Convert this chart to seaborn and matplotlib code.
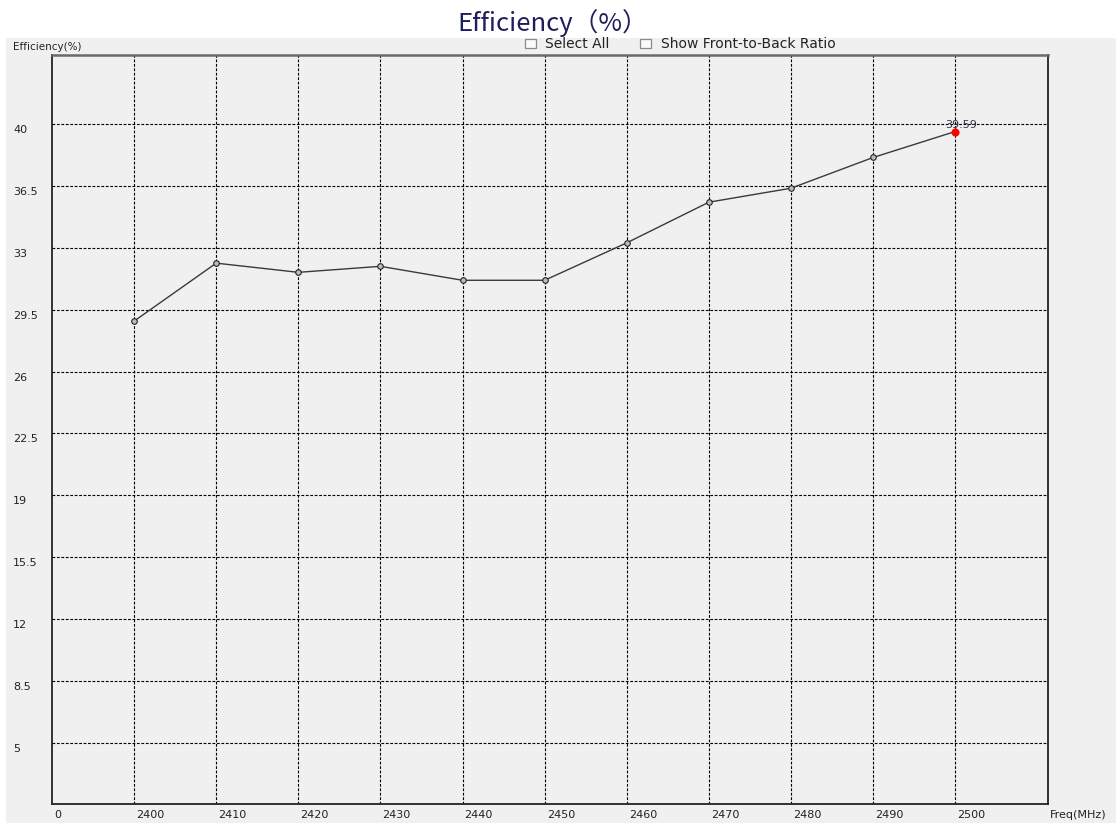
import matplotlib
matplotlib.use("Agg")
import matplotlib.pyplot as plt
from matplotlib.patches import Rectangle
from matplotlib.transforms import blended_transform_factory, offset_copy
import seaborn as sns

# ---- data ----
freq = [2400, 2410, 2420, 2430, 2440, 2450, 2460, 2470, 2480, 2490, 2500]
efficiency = [28.86, 32.14, 31.62, 31.96, 31.17, 31.17, 33.29, 35.59, 36.38, 38.12, 39.59]
y_ticks = [5, 8.5, 12, 15.5, 19, 22.5, 26, 29.5, 33, 36.5, 40]
y_tick_labels = ["5", "8.5", "12", "15.5", "19", "22.5", "26", "29.5", "33", "36.5", "40"]
x_tick_labels = ["0", "2400", "2410", "2420", "2430", "2440", "2450", "2460", "2470", "2480", "2490", "2500"]
title = "Efficiency（%）"
y_label = "Efficiency(%)"
x_label = "Freq(MHz)"
checkbox_labels = ["Select All", "Show Front-to-Back Ratio"]

W, H = 1116, 823
sns.set_style("white")
plt.rcParams["font.family"] = ["DejaVu Sans"]

fig = plt.figure(figsize=(W / 100, H / 100), dpi=100)
fig.patch.set_facecolor("white")
fig.add_artist(Rectangle((6 / W, 0), 1 - 6 / W, (H - 38) / H, transform=fig.transFigure,
                         facecolor="#f0f0f0", edgecolor="none", zorder=-10))

ax = fig.add_axes([52 / W, (H - 804) / H, (1048 - 52) / W, (804 - 55) / H])
ax.set_facecolor("#f0f0f0")

x_min, x_max = 2390, 2511.3
ax.set_xlim(x_min, x_max)
ax.set_ylim(1.53, 43.92)

ax.set_xticks(freq)
ax.set_yticks(y_ticks)
ax.grid(True, color="black", linestyle=(0, (2.5, 1.5)), linewidth=0.8)
ax.set_axisbelow(True)
ax.tick_params(labelbottom=False, labelleft=False, length=0)

for side in ["left", "bottom", "right"]:
    ax.spines[side].set_color("#222222")
    ax.spines[side].set_linewidth(1.3)
    ax.spines[side].set_visible(True)
ax.spines["top"].set_color("#6a6a6a")
ax.spines["top"].set_linewidth(1.8)
ax.spines["top"].set_visible(True)

sns.lineplot(x=freq, y=efficiency, ax=ax, color="#3a3a3a", linewidth=1.0,
             marker="o", markersize=4, markerfacecolor="#bdbdbd",
             markeredgecolor="#222222", markeredgewidth=0.8, zorder=3)
sns.scatterplot(x=[freq[-1]], y=[efficiency[-1]], ax=ax, color="red", s=28,
                edgecolor="red", linewidth=0.5, zorder=5)
ax.annotate(f"{efficiency[-1]:.2f}", xy=(freq[-1], efficiency[-1]),
            xytext=(4, 5), textcoords="offset points", ha="center", va="center",
            fontsize=8, color="#333344", zorder=6)

# y tick labels
ytrans = offset_copy(blended_transform_factory(fig.transFigure, ax.transData), fig=fig, y=-6, units="dots")
for v, lab in zip(y_ticks, y_tick_labels):
    ax.text(13 / W, v, lab, transform=ytrans, ha="left", va="center", fontsize=8, color="#222222")

# x tick labels
x_label_pos = [x_min] + freq
xtrans = offset_copy(blended_transform_factory(ax.transData, fig.transFigure), fig=fig, x=2, units="dots")
for v, lab in zip(x_label_pos, x_tick_labels):
    ax.text(v, (H - 815) / H, lab, transform=xtrans, ha="left", va="center", fontsize=8,
            color="#222222", clip_on=False)

fig.text(1050 / W, (H - 815) / H, x_label, ha="left", va="center", fontsize=8, color="#222222")
fig.text(13 / W, (H - 47) / H, y_label, ha="left", va="center", fontsize=7.5, color="#222222")

fig.text(553 / W, (H - 31) / H, title, ha="center", va="baseline", fontsize=18.5,
         color="#1e1e5c", family=["Noto Sans CJK SC", "DejaVu Sans"])

# checkbox row
for bx in (525, 640):
    fig.add_artist(Rectangle((bx / W, (H - 48) / H), 11 / W, 9 / H, transform=fig.transFigure,
                             facecolor="#fbfbfb", edgecolor="#8a8a8a", linewidth=0.9))
fig.text(545 / W, (H - 44) / H, checkbox_labels[0], ha="left", va="center", fontsize=10, color="#222222")
fig.text(661 / W, (H - 44) / H, checkbox_labels[1], ha="left", va="center", fontsize=10, color="#222222")

fig.savefig("out.png", dpi=100, facecolor=fig.get_facecolor())
